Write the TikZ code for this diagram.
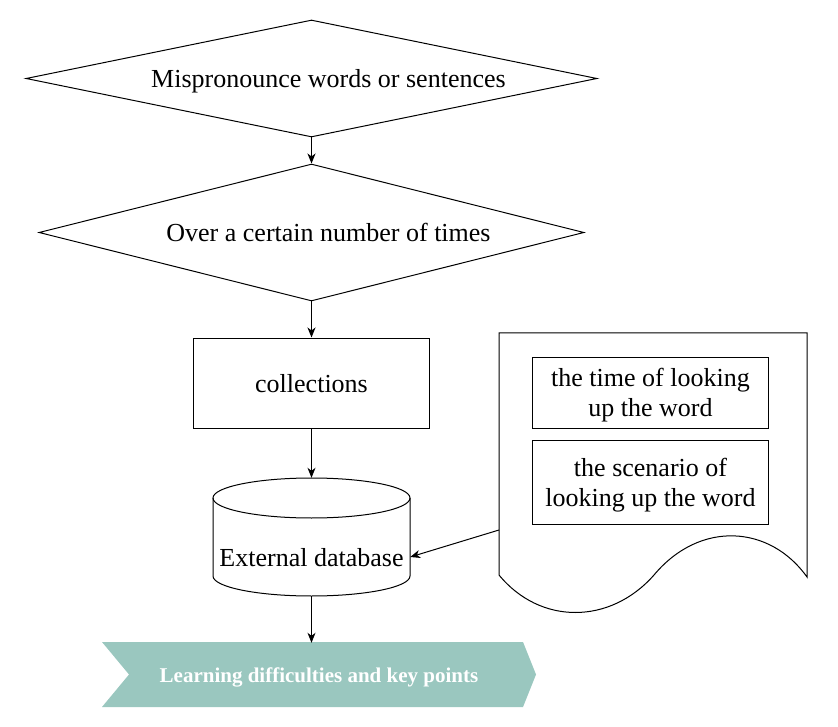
\documentclass[tikz,border=0pt]{standalone}
\usepackage{fontspec}
\setmainfont{Liberation Serif}
\usetikzlibrary{shapes.geometric,arrows.meta,positioning}
\definecolor{stepgreen}{HTML}{9AC7BF}
\tikzset{
    bigtext/.style={font=\fontsize{26}{30}\selectfont, text depth=0pt},
    decision/.style={diamond, draw, line width=1pt, inner sep=0pt, bigtext},
    boxnode/.style={rectangle, draw, line width=1pt, align=center, bigtext},
    flow/.style={-{Stealth[length=10pt,width=8pt,inset=3pt]}, line width=1pt},
}
\begin{document}
\begin{tikzpicture}[x=1pt, y=-1pt]
        \useasboundingbox (0,0) rectangle (838,727);
        \node[decision, aspect=4.9, minimum width=571pt, minimum height=117pt] (mispron) at (311.5,78.5) {\hspace*{34pt}Mispronounce words or sentences}; % Losango 1
        \node[decision, aspect=4, minimum width=545pt, minimum height=137pt] (overtimes) at (311.5,232.5) {\hspace*{34pt}Over a certain number of times}; % Losango 2
        \node[boxnode, minimum width=236pt, minimum height=90pt] (collect) at (311.5,383) {collections}; % Caixa
        \draw[line width=1pt] (213,498) -- (213,576) arc[start angle=180, end angle=360, x radius=98.5pt, y radius=20pt] -- (410,498); % Cilindro
        \draw[line width=1pt] (311.5,498) ellipse [x radius=98.5pt, y radius=20pt]; % Tampa do cilindro
        \node[minimum width=197pt, minimum height=118pt, inner sep=0pt] (db) at (311.5,537) {};
        \node[bigtext, minimum width=197pt, inner sep=0pt] (dbtext) at (311.5,557) {External database};
        \fill[stepgreen] (102,642) -- (523,642) -- (536,674.5) -- (523,707) -- (102,707) -- (129,674.5) -- cycle; % Seta larga
        \node[text=white, font=\fontsize{21}{24}\selectfont\bfseries, text depth=0pt, minimum width=434pt, minimum height=65pt, inner sep=0pt] (learn) at (319,675.5) {Learning difficulties and key points};
        \draw[line width=1pt] (499,575) -- (499,333) -- (807,333) -- (807,577) .. controls (770,525) and (700,520) .. (654,575) .. controls (610,625) and (540,625) .. (499,575); % Documento
        \node[boxnode, minimum width=236pt, minimum height=71pt] (timebox) at (650.5,392.5) {the time of looking\\up the word};
        \node[boxnode, minimum width=236pt, minimum height=84pt] (scenebox) at (650.5,482) {the scenario of\\looking up the word};
        \coordinate (docin) at (499,530); % Saida do documento
        \draw[flow] (mispron.south) -- (overtimes.north);
        \draw[flow] (overtimes.south) -- (collect.north);
        \draw[flow] (collect.south) -- (db.north);
        \draw[flow] (db.south) -- (db.south |- learn.north);
        \draw[flow] (docin) -- (dbtext.east);
    \end{tikzpicture}
\end{document}
